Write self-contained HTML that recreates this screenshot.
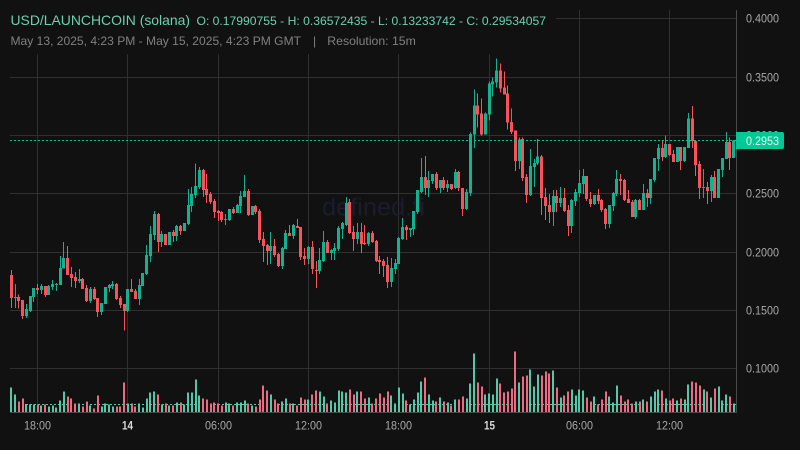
<!DOCTYPE html>
<html lang="en">
<head>
<meta charset="utf-8">
<title>USD/LAUNCHCOIN chart</title>
<style>
html,body{margin:0;padding:0;width:800px;height:450px;background:#111111;overflow:hidden}
svg{display:block}
text{font-family:"Liberation Sans","Noto Sans CJK JP",sans-serif}
</style>
</head>
<body>
<svg id="chart" xmlns="http://www.w3.org/2000/svg" width="800" height="450" viewBox="0 0 800 450">
  <rect x="0" y="0" width="800" height="450" fill="#111111"/>
  <g id="grid"></g>
  <text x="322" y="215.5" font-size="25" fill="#1c1c2e" textLength="103" lengthAdjust="spacingAndGlyphs">defined.fi</text>
  <rect x="0" y="0" width="556" height="54" fill="#111111"/>
  <line id="volumeAverage" x1="10" x2="736" y1="404.5" y2="404.5" stroke="#55c9a9" stroke-width="1" stroke-dasharray="2 2" shape-rendering="crispEdges"/>
  <g id="volumes"></g>
  <g id="candles"></g>
  <line id="priceLine" x1="10" x2="736" stroke="#00c896" stroke-width="1" stroke-dasharray="2 2" shape-rendering="crispEdges"/>
  <line x1="10" x2="737" y1="412.5" y2="412.5" stroke="#4a4a4a" stroke-width="1" shape-rendering="crispEdges"/>
  <line x1="736.5" x2="736.5" y1="10" y2="413" stroke="#4a4a4a" stroke-width="1" shape-rendering="crispEdges"/>
  <g id="priceAxis"></g>
  <g id="timeAxis"></g>
  <g>
    <path id="priceBadge" fill="#00c896"/>
    <text id="priceBadgeText" x="746" font-size="12" fill="#f2f2f2" textLength="33" lengthAdjust="spacingAndGlyphs"></text>
  </g>
  <g>
    <text x="10.5" y="25" font-size="14" fill="#6ad0b0" textLength="179.5" lengthAdjust="spacingAndGlyphs">USD/LAUNCHCOIN (solana)</text>
    <text x="196.5" y="25" font-size="12" fill="#6ad0b0" textLength="349.5" lengthAdjust="spacingAndGlyphs">O: 0.17990755 - H: 0.36572435 - L: 0.13233742 - C: 0.29534057</text>
    <text x="10.5" y="45" font-size="12" fill="#808080" textLength="290.5" lengthAdjust="spacingAndGlyphs">May 13, 2025, 4:23 PM - May 15, 2025, 4:23 PM GMT</text>
    <text x="313" y="45" font-size="12" fill="#808080">|</text>
    <text x="327.3" y="45" font-size="12" fill="#808080" textLength="88.5" lengthAdjust="spacingAndGlyphs">Resolution: 15m</text>
  </g>
</svg>
<script>
const opens = [
.1800,.1605,.1611,.1585,.1450,.1493,.1611,.1688,.1671,.1705,
.1628,.1697,.1714,.1714,.1854,.1946,.1808,.1782,.1748,.1765,
.1688,.1576,.1679,.1602,.1482,.1550,.1688,.1705,.1722,.1602,
.1550,.1490,.1679,.1662,.1593,.1705,.1808,.1963,.2143,.2324,
.2083,.2152,.2057,.2169,.2135,.2221,.2178,.2238,.2393,.2487,
.2556,.2702,.2539,.2496,.2436,.2350,.2341,.2278,.2273,.2367,
.2333,.2393,.2470,.2522,.2315,.2393,.2350,.2109,.2058,.2006,
.2049,.1980,.1877,.2023,.2161,.2135,.2221,.2212,.1963,.1937,
.2041,.1843,.1834,.1920,.2084,.1989,.2006,.2023,.2195,.2230,
.2427,.2169,.2109,.2169,.2075,.2066,.2161,.2092,.1929,.1920,
.1886,.1740,.1851,.1894,.2109,.2212,.2186,.2195,.2341,.2513,
.2642,.2547,.2607,.2668,.2547,.2616,.2547,.2582,.2547,.2685,
.2547,.2367,.2504,.3003,.3252,.3183,.3003,.3175,.3432,.3449,
.3553,.3407,.3355,.3114,.3037,.2779,.2968,.2642,.2487,.2728,
.2754,.2814,.2470,.2401,.2341,.2478,.2418,.2461,.2358,.2220,
.2435,.2504,.2581,.2650,.2452,.2409,.2487,.2444,.2366,.2238,
.2392,.2495,.2624,.2616,.2452,.2427,.2298,.2444,.2358,.2504,
.2461,.2616,.2796,.2891,.2813,.2925,.2839,.2770,.2899,.2779,
.2891,.3140,.2951,.2753,.2547,.2555,.2521,.2641,.2461,.2702,
.2796,.2942,.2805];
const highs = [
.1843,.1722,.1633,.1585,.1550,.1619,.1688,.1722,.1722,.1705,
.1714,.1757,.1731,.1963,.2083,.2049,.1868,.1825,.1851,.1774,
.1714,.1697,.1697,.1602,.1559,.1697,.1722,.1748,.1731,.1619,
.1550,.1679,.1765,.1679,.1765,.1817,.2057,.2221,.2349,.2332,
.2178,.2152,.2169,.2186,.2229,.2229,.2244,.2539,.2556,.2754,
.2728,.2711,.2668,.2513,.2453,.2358,.2350,.2324,.2367,.2384,
.2410,.2522,.2659,.2539,.2393,.2401,.2367,.2169,.2066,.2169,
.2109,.1989,.2041,.2187,.2230,.2238,.2281,.2212,.2032,.2049,
.2092,.1920,.2032,.2178,.2101,.2023,.2075,.2221,.2255,.2470,
.2453,.2221,.2247,.2247,.2229,.2169,.2178,.2101,.1963,.1937,
.1955,.1946,.1937,.2126,.2290,.2229,.2204,.2350,.2530,.2805,
.2822,.2693,.2668,.2685,.2616,.2642,.2616,.2582,.2711,.2693,
.2547,.2539,.3020,.3389,.3355,.3312,.3192,.3458,.3492,.3657,
.3613,.3544,.3424,.3226,.3037,.2977,.2977,.2668,.2882,.2796,
.2968,.2831,.2547,.2496,.2530,.2530,.2555,.2547,.2401,.2452,
.2538,.2702,.2710,.2650,.2513,.2487,.2538,.2452,.2375,.2401,
.2513,.2702,.2667,.2624,.2530,.2444,.2452,.2452,.2581,.2538,
.2624,.2805,.2925,.2951,.2994,.2925,.2873,.2899,.2899,.2899,
.3191,.3251,.2951,.2779,.2710,.2598,.2659,.2693,.2710,.2805,
.3028,.2977,.2959];
const lows = [
.1519,.1519,.1513,.1424,.1433,.1485,.1570,.1636,.1636,.1611,
.1628,.1671,.1662,.1714,.1854,.1800,.1697,.1688,.1731,.1679,
.1568,.1559,.1585,.1439,.1456,.1550,.1654,.1679,.1585,.1516,
.1323,.1482,.1654,.1593,.1542,.1705,.1800,.1911,.2100,.1997,
.2040,.2057,.2057,.2083,.2092,.2144,.2178,.2230,.2341,.2462,
.2539,.2470,.2419,.2410,.2290,.2264,.2255,.2230,.2264,.2324,
.2333,.2333,.2470,.2307,.2315,.2324,.2075,.1912,.1886,.1895,
.1955,.1869,.1852,.2023,.2135,.2109,.2204,.1929,.1886,.1895,
.1809,.1688,.1809,.1912,.1989,.1929,.1929,.2006,.2109,.2221,
.2152,.2006,.2066,.1989,.2058,.2049,.2075,.1911,.1808,.1783,
.1688,.1697,.1808,.1894,.2101,.2101,.2126,.2143,.2324,.2504,
.2487,.2470,.2582,.2530,.2504,.2530,.2513,.2530,.2539,.2522,
.2307,.2358,.2479,.2891,.3063,.2994,.3003,.3123,.3329,.3407,
.3364,.3346,.3046,.3011,.2693,.2711,.2607,.2418,.2479,.2556,
.2745,.2315,.2272,.2247,.2220,.2341,.2384,.2341,.2134,.2160,
.2392,.2470,.2495,.2435,.2384,.2401,.2409,.2341,.2195,.2203,
.2349,.2478,.2487,.2435,.2418,.2298,.2281,.2358,.2358,.2384,
.2409,.2598,.2693,.2779,.2805,.2822,.2770,.2770,.2702,.2770,
.2891,.2891,.2650,.2452,.2461,.2409,.2427,.2461,.2461,.2641,
.2796,.2702,.2805];
const closes = [
.1605,.1611,.1576,.1450,.1507,.1619,.1688,.1671,.1705,.1628,
.1705,.1722,.1722,.1860,.1946,.1800,.1774,.1748,.1765,.1679,
.1576,.1679,.1593,.1482,.1559,.1697,.1714,.1722,.1593,.1542,
.1490,.1679,.1654,.1593,.1714,.1817,.1971,.2152,.2324,.2083,
.2152,.2057,.2169,.2135,.2221,.2178,.2244,.2401,.2496,.2565,
.2702,.2530,.2487,.2427,.2341,.2333,.2273,.2281,.2367,.2333,
.2401,.2479,.2522,.2315,.2393,.2341,.2101,.2049,.2006,.2049,
.1972,.1877,.2032,.2161,.2135,.2230,.2204,.1955,.1937,.2041,
.1852,.1837,.1929,.2084,.1989,.2015,.2032,.2204,.2247,.2419,
.2161,.2109,.2169,.2066,.2066,.2161,.2083,.1920,.1911,.1877,
.1740,.1860,.1903,.2118,.2212,.2186,.2204,.2350,.2530,.2642,
.2547,.2616,.2668,.2547,.2616,.2547,.2582,.2539,.2685,.2547,
.2367,.2513,.3011,.3252,.3175,.3003,.3183,.3441,.3458,.3553,
.3398,.3346,.3106,.3028,.2779,.2960,.2633,.2487,.2736,.2762,
.2814,.2461,.2393,.2341,.2478,.2418,.2461,.2349,.2220,.2444,
.2513,.2590,.2650,.2452,.2409,.2487,.2435,.2358,.2238,.2401,
.2504,.2624,.2607,.2444,.2418,.2298,.2444,.2358,.2504,.2461,
.2624,.2805,.2891,.2813,.2925,.2830,.2770,.2899,.2779,.2899,
.3140,.2951,.2745,.2547,.2555,.2521,.2641,.2461,.2710,.2805,
.2942,.2805,.2953];
const volumes = [
73,52,31,40,24,22,22,22,19,22,
16,19,13,34,61,46,40,25,25,16,
31,19,10,49,16,25,22,16,16,16,
88,25,25,16,25,13,40,58,61,52,
22,25,19,19,28,28,22,58,58,97,
49,40,37,25,28,25,19,28,25,19,
28,28,34,25,19,16,37,79,64,52,
37,25,31,40,25,25,19,43,37,37,
52,64,61,46,25,34,28,64,61,58,
67,52,61,61,40,43,25,40,55,43,
61,49,25,73,55,34,22,37,58,91,
103,52,34,31,43,31,28,19,37,37,
46,40,85,175,88,76,52,55,52,100,
85,58,61,70,181,88,106,109,127,76,
112,109,121,115,124,73,43,49,61,67,
49,67,64,43,31,46,22,37,61,46,
28,79,49,31,37,25,31,31,37,31,
46,61,67,64,40,34,40,34,40,37,
82,91,88,79,67,61,43,70,76,34,
52,46,25];
const priceTicks = [0.40,0.35,0.30,0.25,0.20,0.15,0.10];
const lastPrice = 0.2953;
const startTime = Date.UTC(2025,4,13,16,15);
const intervalMinutes = 15;

const SVGNS = 'http://www.w3.org/2000/svg';
const UP = '#12b190', DOWN = '#f8525c', VOL_UP = '#52c9a8', VOL_DOWN = '#ee6a84';
const xOf = i => 11.3 + 3.762 * i;
const yOf = p => 18.4 + (0.40 - p) * 1166.5;
const volumeHeight = v => v / 3;
const snap = v => Math.floor(v) + 0.5;
function make(tag, parent, attrs) {
  const el = document.createElementNS(SVGNS, tag);
  for (const k in attrs) el.setAttribute(k, attrs[k]);
  parent.appendChild(el);
  return el;
}
const grid = document.getElementById('grid');
const priceAxis = document.getElementById('priceAxis');
const timeAxis = document.getElementById('timeAxis');
const volumesG = document.getElementById('volumes');
const candlesG = document.getElementById('candles');

priceTicks.forEach(p => {
  const y = Math.round(yOf(p)) + 0.5;
  const line = make('line', grid, {x1: 10, x2: 736, y1: y, y2: y, stroke: '#303030', 'stroke-width': 1, 'shape-rendering': 'crispEdges'});
  
  
  const label = make('text', priceAxis, {x: 746, y: y + 4, 'font-size': 12, fill: '#a8a8a8', textLength: 33, lengthAdjust: 'spacingAndGlyphs'});
  
  
  label.textContent = p.toFixed(4);
});

closes.forEach((_, i) => {
  const d = new Date(startTime + i * intervalMinutes * 60000);
  const h = d.getUTCHours(), m = d.getUTCMinutes();
  if (m !== 0 || h % 6 !== 0) return;
  const x = snap(xOf(i));
  const line = make('line', grid, {x1: x, x2: x, y1: 10, y2: 412, stroke: '#303030', 'stroke-width': 1, 'shape-rendering': 'crispEdges'});
  
  
  const isDay = h === 0;
  const txt = isDay ? String(d.getUTCDate()) : String(h).padStart(2, '0') + ':00';
  const label = make('text', timeAxis, {x: x - (isDay ? 5.5 : 13.5), y: 429.5, 'font-size': 12, fill: isDay ? '#d8d8d8' : '#a8a8a8', 'font-weight': isDay ? 700 : 400, textLength: isDay ? 11 : 27, lengthAdjust: 'spacingAndGlyphs'});
  
  
  label.textContent = txt;
});

closes.forEach((c, i) => {
  const o = opens[i], up = c >= o, x = xOf(i);
  const vh = volumeHeight(volumes[i]);
  const bar = make('rect', volumesG, {x: Math.round(x - 1), y: 412 - vh, width: 2, height: vh, fill: (up || i === 0) ? VOL_UP : VOL_DOWN, 'shape-rendering': 'crispEdges'});
  
  
  const color = up ? UP : DOWN;
  const wick = make('rect', candlesG, {x: Math.round(x - 0.5), y: yOf(highs[i]), width: 1, height: Math.max(1, yOf(lows[i]) - yOf(highs[i])), fill: color, 'shape-rendering': 'crispEdges'});
  
  
  const top = yOf(Math.max(o, c)), bot = yOf(Math.min(o, c));
  const body = make('rect', candlesG, {x: Math.round(x - 1.5), y: top, width: 3, height: Math.max(1, bot - top), fill: color, 'shape-rendering': 'crispEdges'});
  
  
});

const py = yOf(lastPrice);
const priceLine = document.getElementById('priceLine');
priceLine.setAttribute('y1', snap(py));
priceLine.setAttribute('y2', snap(py));
const by = Math.floor(py) - 8;
document.getElementById('priceBadge').setAttribute('d', 'M736 ' + by + 'H782a2 2 0 0 1 2 2V' + (by + 15) + 'a2 2 0 0 1 -2 2H736Z');
const badgeText = document.getElementById('priceBadgeText');
badgeText.setAttribute('y', by + 13);
badgeText.textContent = lastPrice.toFixed(4);
</script>
</body>
</html>
